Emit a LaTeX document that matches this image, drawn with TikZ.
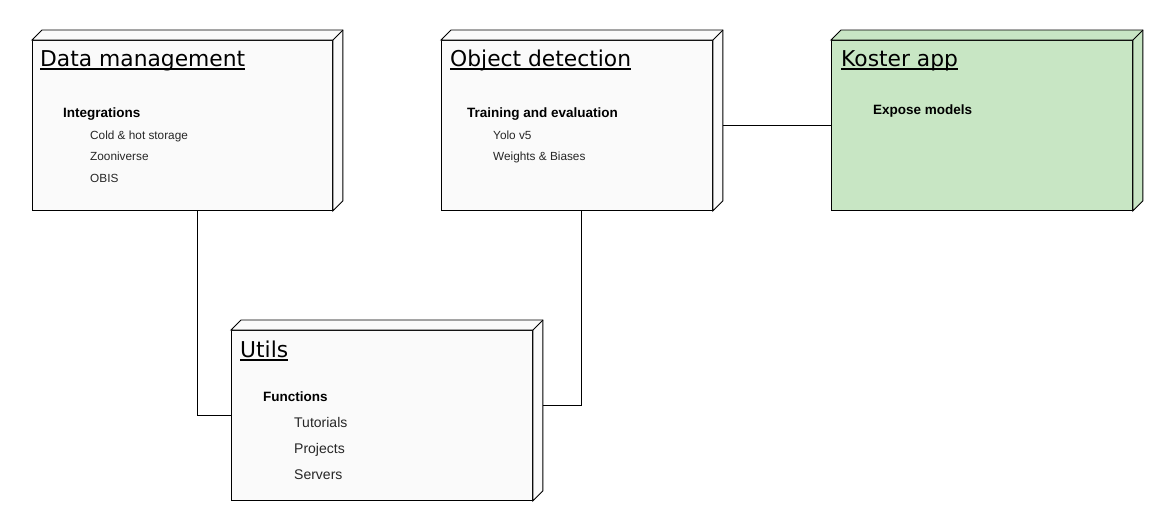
\documentclass[tikz,border=0pt]{standalone}
\usepackage{fontspec}
\setmainfont{Liberation Sans}
\newfontfamily\titlefont{DejaVu Sans}
\usetikzlibrary{calc}

\definecolor{boxgray}{RGB}{250,250,250}
\definecolor{boxgreen}{RGB}{200,230,196}

\tikzset{
  box/.style={draw, line width=0.9pt, anchor=north west, inner sep=0pt, minimum height=170pt},
  title/.style={anchor=base west, inner sep=0pt, font=\titlefont\fontsize{21.8}{24}\selectfont},
  head/.style={anchor=base west, inner sep=0pt, font=\bfseries\fontsize{13.5}{16}\selectfont},
  item/.style={anchor=base west, inner sep=0pt, font=\fontsize{11.8}{14}\selectfont, text=black!85},
  bigitem/.style={anchor=base west, inner sep=0pt, font=\fontsize{14}{16}\selectfont, text=black!85},
  link/.style={line width=0.9pt}
}

% underlined title text
\newcommand{\ttl}[1]{\setbox0\hbox{#1}\leavevmode\rlap{\rule[-3.5pt]{\wd0}{1.4pt}}\box0}

% top and right faces of a 3d box
\newcommand{\boxfaces}[2]{%
  \draw[line width=0.9pt, fill=#2] (#1.north west) -- ++(10,-10) -- ($(#1.north east)+(10,-10)$)
    -- ($(#1.south east)+(10,-10)$) -- (#1.south east) -- (#1.north east) -- cycle;
  \draw[line width=0.9pt] (#1.north east) -- ++(10,-10);
  \coordinate (#1-be) at ($(#1.east)+(10,-10)$);
}

\begin{document}
\begin{tikzpicture}[x=1pt, y=-1pt]
    \useasboundingbox (0,0) rectangle (1172,531);

    % boxes
    \node [box, fill=boxgray, minimum width=300pt] (dm) at (32,40) {};
    \node [box, fill=boxgray, minimum width=271pt] (od) at (441,40) {};
    \node [box, fill=boxgreen, minimum width=301pt] (ka) at (831,40) {};
    \node [box, fill=boxgray, minimum width=301pt] (ut) at (231,330) {};
    \boxfaces{dm}{boxgray}
    \boxfaces{od}{boxgray}
    \boxfaces{ka}{boxgreen}
    \boxfaces{ut}{boxgray}

    % Data management
    \node [title] (dmt) at (40,66) {\ttl{Data management}};
    \node [head] (dmh) at (63,117) {Integrations};
    \node [item] (dm1) at (90,139) {Cold \& hot storage};
    \node [item] (dm2) at (90,160) {Zooniverse};
    \node [item] (dm3) at (90,182) {OBIS};

    % Object detection
    \node [title] (odt) at (450,66) {\ttl{Object detection}};
    \node [head] (odh) at (467,117) {Training and evaluation};
    \node [item] (od1) at (493,139) {Yolo v5};
    \node [item] (od2) at (493,160) {Weights \& Biases};

    % Koster app
    \node [title] (kat) at (841,66) {\ttl{Koster app}};
    \node [head] (kah) at (873,114) {Expose models};

    % Utils
    \node [title] (utt) at (240,357) {\ttl{Utils}};
    \node [head] (uth) at (263,401) {Functions};
    \node [bigitem] (ut1) at (294,427) {Tutorials};
    \node [bigitem] (ut2) at (294,453) {Projects};
    \node [bigitem] (ut3) at (294,479) {Servers};

    % links
    \draw [link] ($(dm.south)+(15,0)$) |- (ut.west);
    \draw [link] ($(od.south)+(4.5,0)$) |- (ut-be);
    \draw [link] (ka.west) -- (ka.west -| od-be);
\end{tikzpicture}
\end{document}
